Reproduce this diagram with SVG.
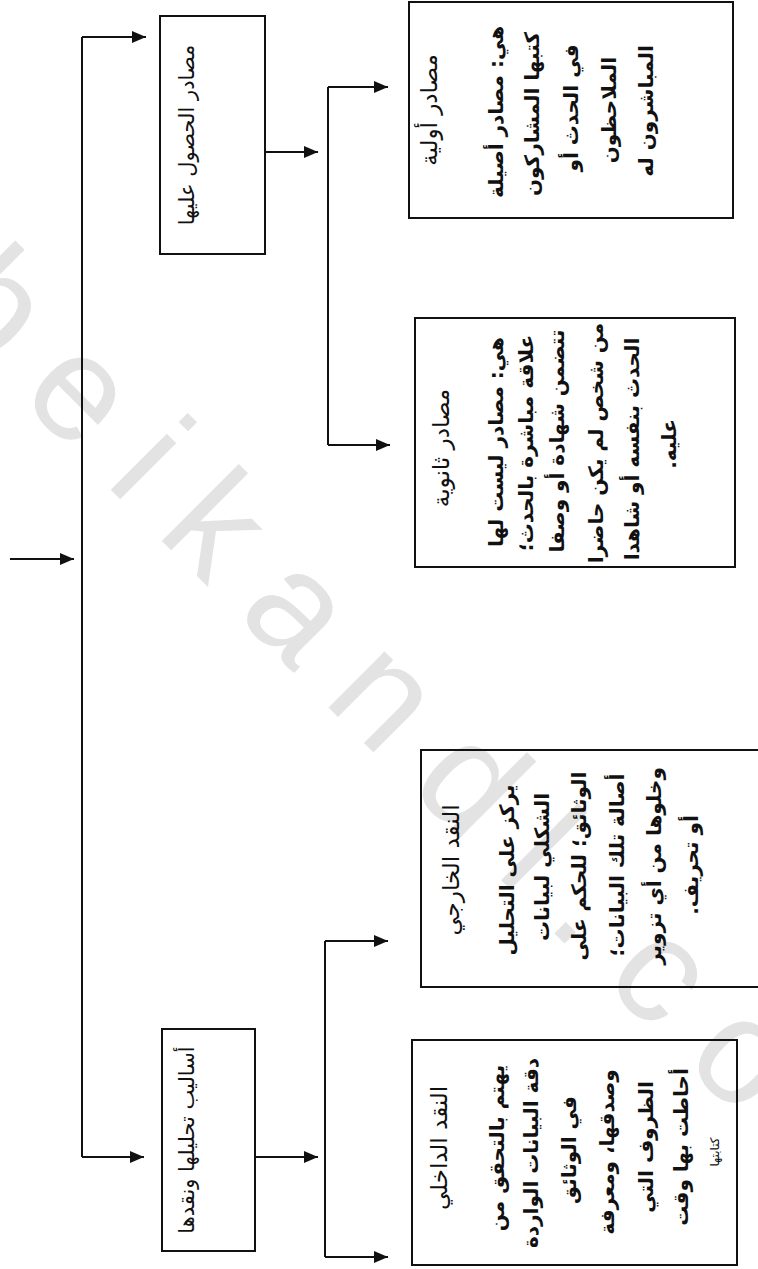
<svg xmlns="http://www.w3.org/2000/svg" width="758" height="1269" viewBox="0 0 758 1269">
<style>
.bg{fill:#ffffff}
.wm{font-family:'Liberation Sans',Arial,sans-serif;font-size:150px;fill:#e3e3e3}
.box{fill:none;stroke:#111;stroke-width:2}
.ln{fill:none;stroke:#111;stroke-width:2}
.t{font-family:'DejaVu Sans',sans-serif;font-size:20px;fill:#111;text-anchor:middle;direction:rtl}
.h{font-size:23px}
.m{font-size:21px}
.b{font-size:20px;font-weight:bold}
.s{font-size:12px}
</style>
<defs>
<marker id="ah" markerUnits="userSpaceOnUse" markerWidth="14" markerHeight="12" refX="14" refY="6" orient="auto">
<path d="M0,0 L14,6 L0,12 z" fill="#111"/>
</marker>
</defs>
<rect class="bg" x="0" y="0" width="758" height="1269"/>
<g id="watermark">
<text class="wm" transform="translate(-155,224) rotate(45)" letter-spacing="38.6">obeikandl.com</text>
</g>
<g id="connectors">
<path class="ln" d="M10,559 H74" marker-end="url(#ah)"/>
<path class="ln" d="M82,37 V1157"/>
<path class="ln" d="M82,37 H146" marker-end="url(#ah)"/>
<path class="ln" d="M82,1157 H144" marker-end="url(#ah)"/>
<path class="ln" d="M265,152 H318" marker-end="url(#ah)"/>
<path class="ln" d="M328,87 V445"/>
<path class="ln" d="M328,87 H388" marker-end="url(#ah)"/>
<path class="ln" d="M328,445 H390" marker-end="url(#ah)"/>
<path class="ln" d="M255,1157 H318" marker-end="url(#ah)"/>
<path class="ln" d="M325,941 V1257"/>
<path class="ln" d="M325,941 H388" marker-end="url(#ah)"/>
<path class="ln" d="M325,1257 H388" marker-end="url(#ah)"/>
</g>
<g id="node-obtain">
<rect class="box" x="160" y="16" width="105" height="238"/>
<text class="t m" transform="translate(194,135) rotate(-90)">مصادر الحصول عليها</text>
</g>
<g id="node-analysis">
<rect class="box" x="162" y="1029" width="93" height="222"/>
<text class="t m" transform="translate(194,1140) rotate(-90)">أساليب تحليلها ونقدها</text>
</g>
<g id="node-primary">
<rect class="box" x="409" y="2" width="324" height="216"/>
<text class="t h" transform="translate(437,110) rotate(-90)">مصادر أولية</text>
<text class="t b" transform="translate(503,112) rotate(-90)">هي: مصادر أصيلة</text>
<text class="t b" transform="translate(539,114) rotate(-90)">كتبها المشاركون</text>
<text class="t b" transform="translate(578,108) rotate(-90)">في الحدث أو</text>
<text class="t b" transform="translate(616,110) rotate(-90)">الملاحظون</text>
<text class="t b" transform="translate(653,111) rotate(-90)">المباشرون له</text>
</g>
<g id="node-secondary">
<rect class="box" x="415" y="318" width="320" height="249"/>
<text class="t h" transform="translate(449,448) rotate(-90)">مصادر ثانوية</text>
<text class="t b" transform="translate(503,442) rotate(-90)">هي: مصادر ليست لها</text>
<text class="t b" transform="translate(533,443) rotate(-90)">علاقة مباشرة بالحدث؛</text>
<text class="t b" transform="translate(564,441) rotate(-90)">تتضمن شهادة أو وصفا</text>
<text class="t b" transform="translate(603,443) rotate(-90)">من شخص لم يكن حاضرا</text>
<text class="t b" transform="translate(639,449) rotate(-90)">الحدث بنفسه أو شاهدا</text>
<text class="t b" transform="translate(676,444) rotate(-90)">عليه.</text>
</g>
<g id="node-external">
<rect class="box" x="421" y="750" width="345" height="237"/>
<text class="t h" transform="translate(459,870) rotate(-90)">النقد الخارجي</text>
<text class="t b" transform="translate(514,870) rotate(-90)">يركز على التحليل</text>
<text class="t b" transform="translate(549,867) rotate(-90)">الشكلي لبيانات</text>
<text class="t b" transform="translate(586,866) rotate(-90)">الوثائق؛ للحكم على</text>
<text class="t b" transform="translate(624,865) rotate(-90)">أصالة تلك البيانات؛</text>
<text class="t b" transform="translate(661,866) rotate(-90)">وخلوها من أي تزوير</text>
<text class="t b" transform="translate(698,865) rotate(-90)">أو تحريف.</text>
</g>
<g id="node-internal">
<rect class="box" x="412" y="1040" width="325" height="225"/>
<text class="t h" transform="translate(447,1148) rotate(-90)">النقد الداخلي</text>
<text class="t b" transform="translate(504,1148) rotate(-90)">يهتم بالتحقق من</text>
<text class="t b" transform="translate(538,1153) rotate(-90)">دقة البيانات الواردة</text>
<text class="t b" transform="translate(576,1150) rotate(-90)">في الوثائق</text>
<text class="t b" transform="translate(614,1152) rotate(-90)">وصدقها، ومعرفة</text>
<text class="t b" transform="translate(653,1147) rotate(-90)">الظروف التي</text>
<text class="t b" transform="translate(688,1147) rotate(-90)">أحاطت بها وقت</text>
<text class="t s" transform="translate(719,1152) rotate(-90)">كتابتها</text>
</g>
</svg>
